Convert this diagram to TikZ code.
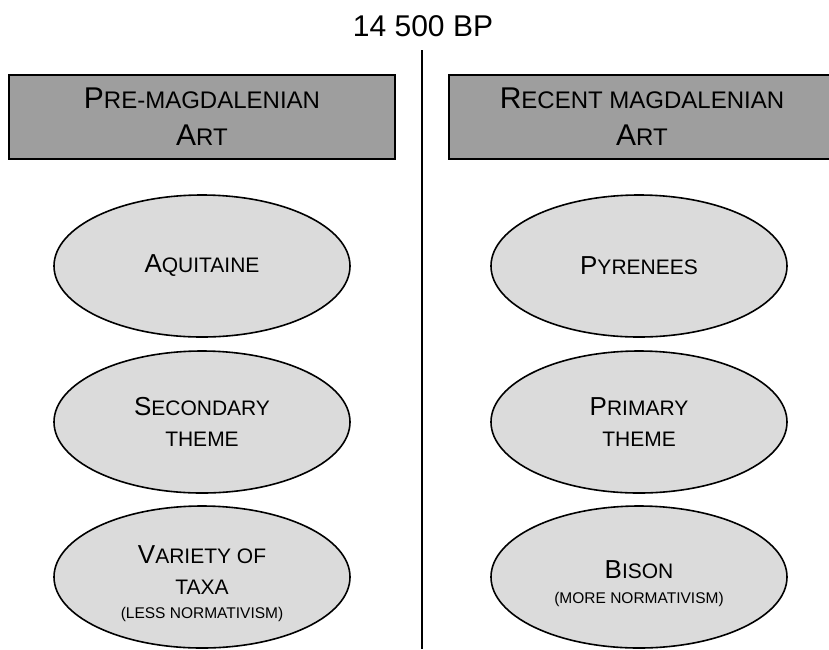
\documentclass[tikz,border=0pt]{standalone}
\usepackage{fontspec}
\setmainfont{Liberation Sans}
\usetikzlibrary{positioning,shapes.geometric}

\definecolor{boxgray}{gray}{0.62}
\definecolor{ovalgray}{gray}{0.86}

\newcommand{\boxcap}[2]{#1{\fontsize{24}{37}\selectfont #2}}
\newcommand{\ovalcap}[2]{#1{\fontsize{21}{31}\selectfont #2}}
\newcommand{\ovalsmall}[1]{{\fontsize{21}{31}\selectfont #1}}
\newcommand{\ovalnote}[1]{{\fontsize{15.5}{24}\selectfont #1}}

\begin{document}
\begin{tikzpicture}[x=1pt,y=-1pt,on grid,
		period/.style={draw=black,line width=1.8pt,fill=boxgray,minimum width=386pt,minimum height=84pt,inner sep=0pt,align=center,font=\fontsize{30}{37}\selectfont},
		oval/.style={ellipse,draw=black,line width=1.6pt,fill=ovalgray,minimum width=296pt,minimum height=142pt,inner sep=0pt,align=center,font=\fontsize{26}{31}\selectfont}]
		\useasboundingbox (0,0) rectangle (829,649);
		\node[anchor=base,font=\fontsize{30}{36}\selectfont] (bp) at (423,36) {14 500 BP};
		\coordinate (cut top) at (422,50);
		\coordinate (cut bottom) at (422,649);
		\draw[line width=1.6pt] (cut top) -- (cut bottom);
		\node[period] (pre) at (202,117) {\boxcap{P}{RE-MAGDALENIAN}\\\boxcap{A}{RT}};
		\node[period] (rec) [right=440pt of pre] {\boxcap{R}{ECENT MAGDALENIAN}\\\boxcap{A}{RT}};
		\node[oval] (aqui) [below=149pt of pre] {\ovalcap{A}{QUITAINE}};
		\node[oval] (sec) [below=156pt of aqui] {\ovalcap{S}{ECONDARY}\\\ovalsmall{THEME}};
		\node[oval] (var) [below=155pt of sec] {\rule{0pt}{31pt}\ovalcap{V}{ARIETY OF}\\\ovalsmall{TAXA}\\[-7pt]\ovalnote{(LESS NORMATIVISM)}};
		\node[oval] (pyr) [right=437pt of aqui] {\ovalcap{P}{YRENEES}};
		\node[oval] (pri) [right=437pt of sec] {\ovalcap{P}{RIMARY}\\\ovalsmall{THEME}};
		\node[oval] (bis) [right=437pt of var] {\rule{0pt}{31pt}\ovalcap{B}{ISON}\\[-6pt]\ovalnote{(MORE NORMATIVISM)}};
\end{tikzpicture}
\end{document}
